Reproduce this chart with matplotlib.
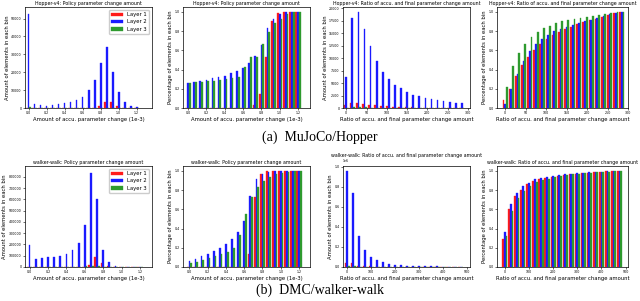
import matplotlib
matplotlib.use("Agg")
import matplotlib.pyplot as plt
import numpy as np

# ---------------- data ----------------
# bin centres
amount_bins = np.arange(19) / 15.0          # 0 .. 1.2, step 1/15
ratio_bins_hopper = np.arange(20) * 15.0    # 0 .. 285
ratio_bins_walker = np.arange(20) * 25.0    # 0 .. 475

# Hopper - amount (counts)
hop_amt_l1 = [0, 0, 0, 0, 0, 0, 0, 0, 0, 0, 0, 200, 1300, 3600, 3400, 900, 100, 0, 0]
hop_amt_l2 = [52400, 2200, 1500, 1300, 1500, 2300, 2900, 3600, 4400, 6400, 10000,
              15500, 25100, 34000, 20400, 8900, 3500, 1100, 400]
hop_amt_l3 = [600, 30, 30, 30, 30, 30, 30, 30, 30, 40, 60, 80, 90, 80, 60, 40, 30, 10, 5]

# Hopper - amount (cumulative share)
hop_amt_cum_l1 = [0, 0, 0, 0, 0, 0, 0, 0, 0, 0, 0, 0.03, 0.15, 0.53, 0.9, 0.99, 1.0, 1.0, 1.0]
hop_amt_cum_l2 = [0.265, 0.275, 0.285, 0.293, 0.307, 0.32, 0.335, 0.36, 0.386, 0.42, 0.465,
                  0.545, 0.655, 0.83, 0.93, 0.98, 0.993, 0.997, 1.0]
hop_amt_cum_l3 = [0.265, 0.27, 0.275, 0.28, 0.285, 0.29, 0.3, 0.31, 0.32, 0.43, 0.53,
                  0.53, 0.67, 0.79, 0.88, 0.93, 0.98, 1.0, 1.0]

# Hopper - ratio (counts)
hop_rat_l1 = [670, 1000, 930, 870, 600, 600, 470, 330, 270, 200, 150, 130, 100, 80, 60, 50, 40, 30, 20, 20]
hop_rat_l2 = [6130, 18000, 19270, 15870, 12330, 9330, 7130, 5870, 4670, 4000, 3200, 2530,
              2330, 2000, 1730, 1530, 1330, 1200, 1070, 1000]
hop_rat_l3 = [100, 300, 250, 120, 80, 60, 50, 40, 30, 30, 20, 20, 15, 15, 10, 10, 10, 10, 5, 5]

# Hopper - ratio (cumulative share)
hop_rat_cum_l1 = [0.08, 0.2, 0.33, 0.45, 0.535, 0.6, 0.67, 0.714, 0.755, 0.79, 0.817, 0.845,
                  0.872, 0.893, 0.914, 0.93, 0.95, 0.97, 0.99, 1.0]
hop_rat_cum_l2 = [0.045, 0.2, 0.355, 0.49, 0.59, 0.665, 0.714, 0.76, 0.8, 0.824, 0.845, 0.866,
                  0.886, 0.907, 0.92, 0.94, 0.955, 0.976, 0.99, 1.0]
hop_rat_cum_l3 = [0.22, 0.44, 0.575, 0.67, 0.74, 0.786, 0.83, 0.85, 0.88, 0.9, 0.914, 0.928,
                  0.94, 0.948, 0.96, 0.97, 0.975, 0.983, 0.993, 1.0]

# walker-walk - amount (counts)
wlk_amt_l1 = [0, 0, 0, 0, 0, 0, 0, 0, 0, 0, 15000, 93000, 33000, 5000, 0, 0, 0, 0, 0]
wlk_amt_l2 = [194000, 70000, 82000, 91000, 91000, 97000, 115000, 153000, 215000, 377000,
              838000, 603000, 153000, 41000, 12000, 1000, 0, 0, 0]
wlk_amt_l3 = [2000, 1000, 1000, 1000, 1000, 1000, 1500, 2000, 3000, 6000, 9000, 5000,
              2000, 1000, 500, 200, 100, 0, 0]

# walker-walk - amount (cumulative share)
wlk_amt_cum_l1 = [0, 0, 0, 0, 0, 0, 0, 0, 0, 0.005, 0.14, 0.73, 0.97, 0.995, 1.0, 1.0, 1.0, 1.0, 1.0]
wlk_amt_cum_l2 = [0.06, 0.08, 0.11, 0.14, 0.167, 0.2, 0.236, 0.29, 0.36, 0.476, 0.736, 0.92,
                  0.972, 0.99, 1.0, 1.0, 1.0, 1.0, 1.0]
wlk_amt_cum_l3 = [0.04, 0.055, 0.07, 0.09, 0.11, 0.13, 0.16, 0.2, 0.33, 0.55, 0.73, 0.83,
                  0.89, 0.94, 0.97, 0.98, 0.99, 1.0, 1.0]

# walker-walk - ratio (counts)
wlk_rat_l1 = [40000, 40000, 12000, 8000, 6000, 4000, 3000, 2500, 2000, 1500, 1200, 1000,
              800, 700, 600, 500, 400, 400, 300, 300]
wlk_rat_l2 = [960000, 740000, 310000, 165000, 100000, 66000, 46000, 33000, 24000, 18000,
              14000, 11000, 9000, 7000, 6000, 5000, 4000, 4000, 3000, 3000]
wlk_rat_l3 = [10000, 10000, 4000, 2000, 1500, 1000, 800, 600, 500, 400, 300, 300, 200,
              200, 150, 150, 100, 100, 100, 100]

# walker-walk - ratio (cumulative share)
wlk_rat_cum_l1 = [0.295, 0.6, 0.736, 0.805, 0.86, 0.89, 0.917, 0.93, 0.94, 0.95, 0.96, 0.965,
                  0.97, 0.975, 0.98, 0.985, 0.99, 0.993, 0.996, 1.0]
wlk_rat_cum_l2 = [0.365, 0.65, 0.77, 0.84, 0.875, 0.91, 0.924, 0.94, 0.95, 0.96, 0.965, 0.97,
                  0.975, 0.98, 0.983, 0.987, 0.99, 0.994, 0.997, 1.0]
wlk_rat_cum_l3 = [0.32, 0.585, 0.72, 0.795, 0.847, 0.88, 0.9, 0.92, 0.935, 0.945, 0.955, 0.962,
                  0.968, 0.973, 0.978, 0.983, 0.987, 0.99, 0.995, 1.0]

layer_names = ['Layer 1', 'Layer 2', 'Layer 3']
layer_colors = ['#ff1a1a', '#1a1aff', '#2e9a2e']

title_amt = 'Policy parameter change amount'
title_rat = 'Ratio of accu. and final parameter change amount'
xlabel_amt = 'Amount of accu. parameter change (1e-3)'
xlabel_rat = 'Ratio of accu. and final parameter change amount'
ylabel_cnt = 'Amount of elements in each bin'
ylabel_pct = 'Percentage of elements in each bin'


def grouped(ax, x, series, title, xlabel, ylabel, xlim, xticks, legend=False):
    x = np.asarray(x)
    step = x[1] - x[0]
    w = 0.85 * step / 3
    for k, (vals, name, col) in enumerate(zip(series, layer_names, layer_colors)):
        ax.bar(x + (k - 1) * w, vals, width=w, color=col, edgecolor=col,
               linewidth=0.25, label=name)
    ax.set_xlim(*xlim)
    ax.set_xticks(xticks)
    ax.set_title(title, fontsize=3.4, pad=1.5)
    ax.set_xlabel(xlabel, fontsize=3.8, labelpad=1)
    ax.set_ylabel(ylabel, fontsize=3.8, labelpad=1)
    ax.tick_params(labelsize=2.3, length=1.5, width=0.4, pad=1)
    ax.yaxis.get_offset_text().set_fontsize(2.3)
    for s in ax.spines.values():
        s.set_linewidth(0.5)
    if legend:
        ax.legend(fontsize=3.8, loc='upper right', handlelength=2.2, borderpad=0.5,
                  labelspacing=0.4, framealpha=1.0, edgecolor='0.8')


fig = plt.figure(figsize=(6.4, 3.01), dpi=100)

cols = [(25, 152), (183, 310), (343, 470), (497, 628)]
rows = [(7, 108), (166, 267)]
W, H = 640.0, 301.0
axs = []
for r in rows:
    for c in cols:
        axs.append(fig.add_axes([c[0] / W, 1 - r[1] / H, (c[1] - c[0]) / W, (r[1] - r[0]) / H]))

amt_ticks = [0.0, 0.2, 0.4, 0.6, 0.8, 1.0, 1.2]
hop_rat_ticks = [0, 50, 100, 150, 200, 250, 300]
wlk_rat_ticks = [0, 100, 200, 300, 400, 500]

grouped(axs[0], amount_bins, [hop_amt_l1, hop_amt_l2, hop_amt_l3], 'Hopper-v4: ' + title_amt,
        xlabel_amt, ylabel_cnt, (-0.04, 1.37), amt_ticks, legend=True)
axs[0].set_ylim(0, 56500)
grouped(axs[1], amount_bins, [hop_amt_cum_l1, hop_amt_cum_l2, hop_amt_cum_l3], 'Hopper-v4: ' + title_amt,
        xlabel_amt, ylabel_pct, (-0.055, 1.33), amt_ticks)
grouped(axs[2], ratio_bins_hopper, [hop_rat_l1, hop_rat_l2, hop_rat_l3], 'Hopper-v4: ' + title_rat,
        xlabel_rat, ylabel_cnt, (-8, 305), hop_rat_ticks)
grouped(axs[3], ratio_bins_hopper, [hop_rat_cum_l1, hop_rat_cum_l2, hop_rat_cum_l3], 'Hopper-v4: ' + title_rat,
        xlabel_rat, ylabel_pct, (-20, 300), hop_rat_ticks)

grouped(axs[4], amount_bins, [wlk_amt_l1, wlk_amt_l2, wlk_amt_l3], 'walker-walk: ' + title_amt,
        xlabel_amt, ylabel_cnt, (-0.05, 1.33), amt_ticks, legend=True)
axs[4].set_ylim(0, 897000)
grouped(axs[5], amount_bins, [wlk_amt_cum_l1, wlk_amt_cum_l2, wlk_amt_cum_l3], 'walker-walk: ' + title_amt,
        xlabel_amt, ylabel_pct, (-0.07, 1.32), amt_ticks)
grouped(axs[6], ratio_bins_walker, [wlk_rat_l1, wlk_rat_l2, wlk_rat_l3], 'walker-walk: ' + title_rat,
        xlabel_rat, ylabel_cnt, (-18, 513), wlk_rat_ticks)
grouped(axs[7], ratio_bins_walker, [wlk_rat_cum_l1, wlk_rat_cum_l2, wlk_rat_cum_l3], 'walker-walk: ' + title_rat,
        xlabel_rat, ylabel_pct, (-32, 510), wlk_rat_ticks)

fig.text(0.5, 1 - 137 / H, '(a)  MuJoCo/Hopper', ha='center', va='center',
         fontsize=10, family='Liberation Serif')
fig.text(0.5, 1 - 290 / H, '(b)  DMC/walker-walk', ha='center', va='center',
         fontsize=10, family='Liberation Serif')

fig.savefig('out.png', dpi=100)
